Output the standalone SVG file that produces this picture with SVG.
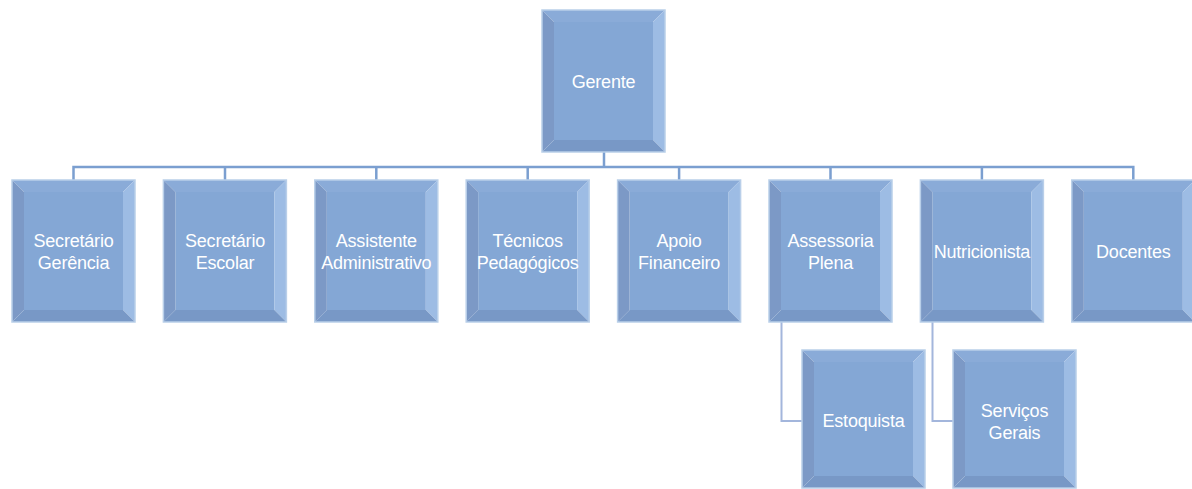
<svg xmlns="http://www.w3.org/2000/svg" xmlns:xlink="http://www.w3.org/1999/xlink" width="1192" height="489" viewBox="0 0 1192 489">
<style>
.lbl{font-family:"Liberation Sans",Arial,sans-serif;font-size:18px;fill:#ffffff;text-anchor:middle;letter-spacing:-0.2px}
.bus{fill:none;stroke:#7b9fd0;stroke-width:2.5}
.sub{fill:none;stroke:#a3b6dc;stroke-width:2}
.face{fill:#84a7d5}
.bt{fill:#8aabd8}
.bl{fill:#7c99c6}
.br{fill:#9dbce4}
.bb{fill:#7898c6}
.edge{fill:none;stroke:#b9cfe9;stroke-width:1.5}
</style>
<defs>
<g id="box">
<rect class="face" x="12" y="12" width="99" height="118"/>
<polygon class="bt" points="0,0 123,0 111,12 12,12"/>
<polygon class="bl" points="0,0 12,12 12,130 0,142"/>
<polygon class="br" points="123,0 123,142 111,130 111,12"/>
<polygon class="bb" points="0,142 12,130 111,130 123,142"/>
<rect class="edge" x="0" y="0" width="123" height="142"/>
</g>
<g id="box2">
<rect class="face" x="12" y="12" width="99" height="114"/>
<polygon class="bt" points="0,0 123,0 111,12 12,12"/>
<polygon class="bl" points="0,0 12,12 12,126 0,138"/>
<polygon class="br" points="123,0 123,138 111,126 111,12"/>
<polygon class="bb" points="0,138 12,126 111,126 123,138"/>
<rect class="edge" x="0" y="0" width="123" height="138"/>
</g>
</defs>
<rect width="1192" height="489" fill="#ffffff"/>
<g id="connectors">
<path class="bus" d="M604,152 V167 M73.5,180 V167 H1133.3 V180 M225,167 V180 M376.3,167 V180 M527.7,167 V180 M679.1,167 V180 M830.5,167 V180 M981.9,167 V180"/>
<path class="sub" d="M781.5,322 V421 H802 M932.5,322 V421 H953"/>
</g>
<g id="gerente"><use xlink:href="#box" x="542" y="10"/><text class="lbl" x="603.5" y="88">Gerente</text></g>
<g id="secretario-gerencia"><use xlink:href="#box" x="12" y="180"/><text class="lbl" x="73.5" y="247">Secretário</text><text class="lbl" x="73.5" y="269">Gerência</text></g>
<g id="secretario-escolar"><use xlink:href="#box" x="163.4" y="180"/><text class="lbl" x="225" y="247">Secretário</text><text class="lbl" x="225" y="269">Escolar</text></g>
<g id="assistente-administrativo"><use xlink:href="#box" x="314.8" y="180"/><text class="lbl" x="376.3" y="247">Assistente</text><text class="lbl" x="376.3" y="269">Administrativo</text></g>
<g id="tecnicos-pedagogicos"><use xlink:href="#box" x="466.2" y="180"/><text class="lbl" x="527.7" y="247">Técnicos</text><text class="lbl" x="527.7" y="269">Pedagógicos</text></g>
<g id="apoio-financeiro"><use xlink:href="#box" x="617.6" y="180"/><text class="lbl" x="679.1" y="247">Apoio</text><text class="lbl" x="679.1" y="269">Financeiro</text></g>
<g id="assessoria-plena"><use xlink:href="#box" x="769" y="180"/><text class="lbl" x="830.5" y="247">Assessoria</text><text class="lbl" x="830.5" y="269">Plena</text></g>
<g id="nutricionista"><use xlink:href="#box" x="920.4" y="180"/><text class="lbl" x="981.9" y="258">Nutricionista</text></g>
<g id="docentes"><use xlink:href="#box" x="1071.8" y="180"/><text class="lbl" x="1133.3" y="258">Docentes</text></g>
<g id="estoquista"><use xlink:href="#box2" x="802" y="350"/><text class="lbl" x="863.5" y="427">Estoquista</text></g>
<g id="servicos-gerais"><use xlink:href="#box2" x="953" y="350"/><text class="lbl" x="1014.5" y="417">Serviços</text><text class="lbl" x="1014.5" y="439">Gerais</text></g>
</svg>
